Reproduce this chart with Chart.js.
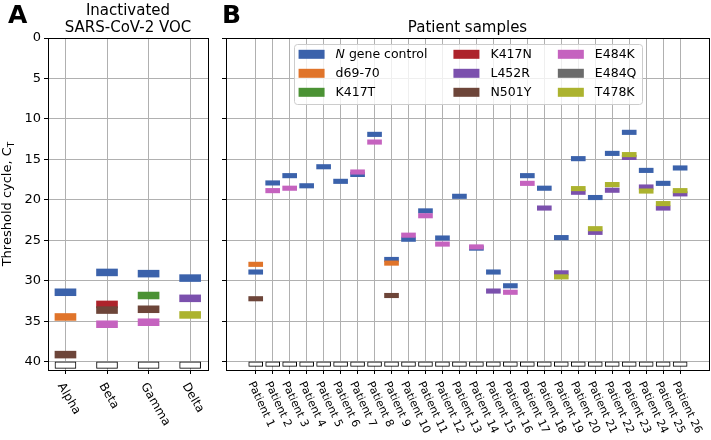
<!DOCTYPE html>
<html>
<head>
<meta charset="utf-8">
<script src="https://cdn.jsdelivr.net/npm/chart.js@4.4.1/dist/chart.umd.min.js"></script>
<style>
  body { margin: 0; background: #fff; width: 711px; height: 440px; position: relative; overflow: hidden; }
  canvas { position: absolute; top: 0; }
  #chartA { left: 0; }
  #chartB { left: 215px; }
</style>
</head>
<body>
<canvas id="chartA" width="216" height="440"></canvas>
<canvas id="chartB" width="496" height="440"></canvas>
<script>
// categories
const variants = ['Alpha', 'Beta', 'Gamma', 'Delta'];
const patients = ['Patient 1', 'Patient 2', 'Patient 3', 'Patient 4', 'Patient 5', 'Patient 6', 'Patient 7',
  'Patient 8', 'Patient 9', 'Patient 10', 'Patient 11', 'Patient 12', 'Patient 13', 'Patient 14', 'Patient 15',
  'Patient 16', 'Patient 17', 'Patient 18', 'Patient 19', 'Patient 20', 'Patient 21', 'Patient 22', 'Patient 23',
  'Patient 24', 'Patient 25', 'Patient 26'];
const yTicks = [0, 5, 10, 15, 20, 25, 30, 35, 40];
const notDetected = 40;

// targets (legend order)
const targetNames = ['N gene control', 'd69-70', 'K417T', 'K417N', 'L452R', 'N501Y', 'E484K', 'E484Q', 'T478K'];
const targetColors = ['#3b62ab', '#e0742a', '#4b9234', '#ad232b', '#7b50ad', '#6d4539', '#c563bf', '#6b6b6b', '#acb32f'];

// panel A: inactivated VOC, Ct per target
const vocNgene = [31.4, 28.95, 29.1, 29.65];
const vocD6970 = [34.45, null, null, null];
const vocK417T = [null, null, 31.8, null];
const vocK417N = [null, 32.9, null, null];
const vocL452R = [null, null, null, 32.15];
const vocN501Y = [39.1, 33.6, 33.5, null];
const vocE484K = [null, 35.35, 35.1, null];
const vocE484Q = [null, null, null, null];
const vocT478K = [null, null, null, 34.2];

// panel B: patient samples, Ct per target
const ptNgene = [28.9, 17.9, 17.0, 18.25, 15.9, 17.7, 16.85, 11.9, 27.35, 24.85, 21.35, 24.7, 19.55,
  25.95, 28.9, 30.6, 17.0, 18.55, 24.65, 14.9, 19.7, 14.25, 11.65, 16.35, 17.95, 16.05];
const ptD6970 = [27.95, null, null, null, null, null, null, null, 27.8, null, null, null, null,
  null, null, null, null, null, null, null, null, null, null, null, null, null];
const ptK417T = [null, null, null, null, null, null, null, null, null, null, null, null, null,
  null, null, null, null, null, null, null, null, null, null, null, null, null];
const ptK417N = [null, null, null, null, null, null, null, null, null, null, null, null, null,
  null, null, null, null, null, null, null, null, null, null, null, null, null];
const ptL452R = [null, null, null, null, null, null, null, null, null, null, null, null, null,
  null, 31.25, null, null, 21.0, 29.0, 19.05, 24.0, 18.8, 14.75, 18.4, 21.0, 19.25];
const ptN501Y = [32.2, null, null, null, null, null, null, null, 31.8, null, null, null, null,
  null, null, null, null, null, null, null, null, null, null, null, null, null];
const ptE484K = [null, 18.85, 18.55, null, null, null, 16.55, 12.85, null, 24.35, 21.95, 25.45, null,
  25.8, null, 31.4, 17.95, null, null, null, null, null, null, null, null, null];
const ptE484Q = [null, null, null, null, null, null, null, null, null, null, null, null, null,
  null, null, null, null, null, null, null, null, null, null, null, null, null];
const ptT478K = [null, null, null, null, null, null, null, null, null, null, null, null, null,
  null, null, null, null, null, 29.5, 18.6, 23.55, 18.1, 14.4, 18.9, 20.45, 18.85];

const FONT = 'DejaVu Sans';
Chart.defaults.font.family = FONT;
Chart.defaults.color = '#000';

// build floating bars: one dataset per target plus the "not detected" boxes underneath
function makeDatasets(cats, series, markH, boxH, thickness) {
  const sets = series.map((vals, k) => ({
    label: targetNames[k],
    data: vals.map((v, i) => v == null ? null : { x: i, y: [v - markH / 2, v + markH / 2] }).filter(Boolean),
    backgroundColor: targetColors[k],
    borderWidth: 0,
    borderSkipped: false,
    barThickness: thickness,
    grouped: false,
    order: 100 - k
  }));
  sets.push({
    label: 'not detected',
    data: cats.map((c, i) => ({ x: i, y: [notDetected, notDetected + boxH] })),
    backgroundColor: '#fff',
    borderColor: '#000',
    borderWidth: 1,
    borderSkipped: false,
    barThickness: thickness,
    grouped: false,
    order: 200
  });
  return sets;
}

function frameAndLabels(cats, angle, size, dy) {
  return {
    id: 'frameAndLabels',
    afterDatasetsDraw(chart) {
      const { ctx, chartArea: a } = chart;
      ctx.save();
      ctx.strokeStyle = '#000';
      ctx.lineWidth = 1;
      const l = Math.round(a.left) + 0.5, t = Math.round(a.top) + 0.5;
      ctx.strokeRect(l, t, Math.round(a.right) - Math.round(a.left), Math.round(a.bottom) - Math.round(a.top));
      // rotated category labels
      const xs = chart.scales.x;
      ctx.fillStyle = '#000';
      ctx.font = size + 'px "' + FONT + '"';
      ctx.textAlign = 'left';
      ctx.textBaseline = 'top';
      cats.forEach((lab, i) => {
        ctx.save();
        ctx.translate(xs.getPixelForValue(i), a.bottom + dy);
        ctx.rotate(angle * Math.PI / 180);
        ctx.fillText(lab, 0, 0);
        ctx.restore();
      });
      ctx.restore();
    }
  };
}

function panelLetter(letter, x) {
  return {
    id: 'panelLetter',
    afterDraw(chart) {
      const ctx = chart.ctx;
      ctx.save();
      ctx.font = 'bold 25px "' + FONT + '"';
      ctx.fillStyle = '#000';
      ctx.textBaseline = 'alphabetic';
      ctx.fillText(letter, x, 23);
      ctx.restore();
    }
  };
}

const yLabelPlugin = {
  id: 'yLabel',
  afterDraw(chart) {
    const { ctx, chartArea: a } = chart;
    ctx.save();
    ctx.translate(8, (a.top + a.bottom) / 2);
    ctx.rotate(-Math.PI / 2);
    ctx.fillStyle = '#000';
    ctx.textBaseline = 'middle';
    ctx.font = '13px "' + FONT + '"';
    const main = 'Threshold cycle, C';
    const wMain = ctx.measureText(main).width;
    ctx.font = '9px "' + FONT + '"';
    const wSub = ctx.measureText('T').width;
    const x0 = -(wMain + wSub) / 2;
    ctx.font = '13px "' + FONT + '"';
    ctx.fillText(main, x0, 0);
    ctx.font = '9px "' + FONT + '"';
    ctx.fillText('T', x0 + wMain, 3.5);
    ctx.restore();
  }
};

// matplotlib-like legend, 3 columns filled top to bottom
const legendPlugin = {
  id: 'targetLegend',
  afterDraw(chart) {
    const { ctx, chartArea: a } = chart;
    const rows = 3, cols = 3, patchW = 26, patchH = 9, gap = 11, colGap = 26, padX = 5, rowH = 19;
    ctx.save();
    const font = '12.5px "' + FONT + '"';
    ctx.font = font;
    const colW = [];
    for (let c = 0; c < cols; c++) {
      let w = 0;
      for (let r = 0; r < rows; r++) w = Math.max(w, ctx.measureText(targetNames[c * rows + r]).width);
      colW.push(w);
    }
    let width = padX * 2 + colGap * (cols - 1);
    colW.forEach(w => { width += patchW + gap + w; });
    const left = (a.left + a.right) / 2 - width / 2, top = a.top + 6, height = 60;
    ctx.beginPath();
    ctx.roundRect(Math.round(left) + 0.5, Math.round(top) + 0.5, Math.round(width), height, 3);
    ctx.fillStyle = 'rgba(255,255,255,0.8)';
    ctx.fill();
    ctx.strokeStyle = '#cccccc';
    ctx.lineWidth = 1;
    ctx.stroke();
    let x = left + padX;
    for (let c = 0; c < cols; c++) {
      for (let r = 0; r < rows; r++) {
        const k = c * rows + r;
        const yc = top + 10.3 + r * rowH;
        ctx.fillStyle = targetColors[k];
        ctx.fillRect(x, yc - patchH / 2, patchW, patchH);
        ctx.fillStyle = '#000';
        ctx.textBaseline = 'middle';
        const name = targetNames[k];
        if (name.startsWith('N gene')) {
          ctx.font = 'italic ' + font;
          ctx.fillText('N', x + patchW + gap, yc);
          const wN = ctx.measureText('N').width;
          ctx.font = font;
          ctx.fillText(name.slice(1), x + patchW + gap + wN, yc);
        } else {
          ctx.font = font;
          ctx.fillText(name, x + patchW + gap, yc);
        }
      }
      x += patchW + gap + colW[c] + colGap;
    }
    ctx.restore();
  }
};

function makeOptions(cats, xMin, xMax, titleText, titlePad, yWidth, showYLabels, rightPad) {
  return {
    responsive: false,
    animation: false,
    devicePixelRatio: 1,
    events: [],
    layout: { padding: { left: 0, right: rightPad, top: 0, bottom: 0 } },
    plugins: {
      legend: { display: false },
      tooltip: { enabled: false },
      title: {
        display: true, text: titleText, fullSize: false, color: '#000',
        font: { family: FONT, size: 15, weight: 'normal', lineHeight: 1.1 },
        padding: titlePad
      }
    },
    scales: {
      x: {
        type: 'linear', min: xMin, max: xMax, offset: false,
        afterBuildTicks: s => { s.ticks = cats.map((c, i) => ({ value: i })); },
        ticks: { display: false },
        grid: { offset: false, color: '#b0b0b0', lineWidth: 1, tickColor: '#000', tickLength: 4 },
        border: { display: false },
        afterFit: s => { s.height = 70; }
      },
      y: {
        min: 0, max: 41, reverse: true,
        afterBuildTicks: s => { s.ticks = yTicks.map(v => ({ value: v })); },
        ticks: { display: showYLabels, font: { family: FONT, size: 13 }, color: '#000', padding: 3 },
        grid: { color: '#b0b0b0', lineWidth: 1, tickColor: '#000', tickLength: 4 },
        border: { display: false },
        afterFit: s => { s.width = yWidth; }
      }
    }
  };
}

new Chart(document.getElementById('chartA'), {
  type: 'bar',
  data: {
    datasets: makeDatasets(variants,
      [vocNgene, vocD6970, vocK417T, vocK417N, vocL452R, vocN501Y, vocE484K, vocE484Q, vocT478K],
      0.85, 0.8, 21)
  },
  options: makeOptions(variants, -0.42, 3.43, ['Inactivated', 'SARS-CoV-2 VOC'],
    { top: 3.25, bottom: 1.75 }, 48, true, 8),
  plugins: [frameAndLabels(variants, 60, 12, 11), panelLetter('A', 8), yLabelPlugin]
});

new Chart(document.getElementById('chartB'), {
  type: 'bar',
  data: {
    datasets: makeDatasets(patients,
      [ptNgene, ptD6970, ptK417T, ptK417N, ptL452R, ptN501Y, ptE484K, ptE484Q, ptT478K],
      0.55, 0.55, 14)
  },
  options: makeOptions(patients, -1.75, 26.7, 'Patient samples',
    { top: 20, bottom: 1.5 }, 11, false, 2),
  plugins: [frameAndLabels(patients, 65, 11, 10), panelLetter('B', 7), legendPlugin]
});
</script>
</body>
</html>
